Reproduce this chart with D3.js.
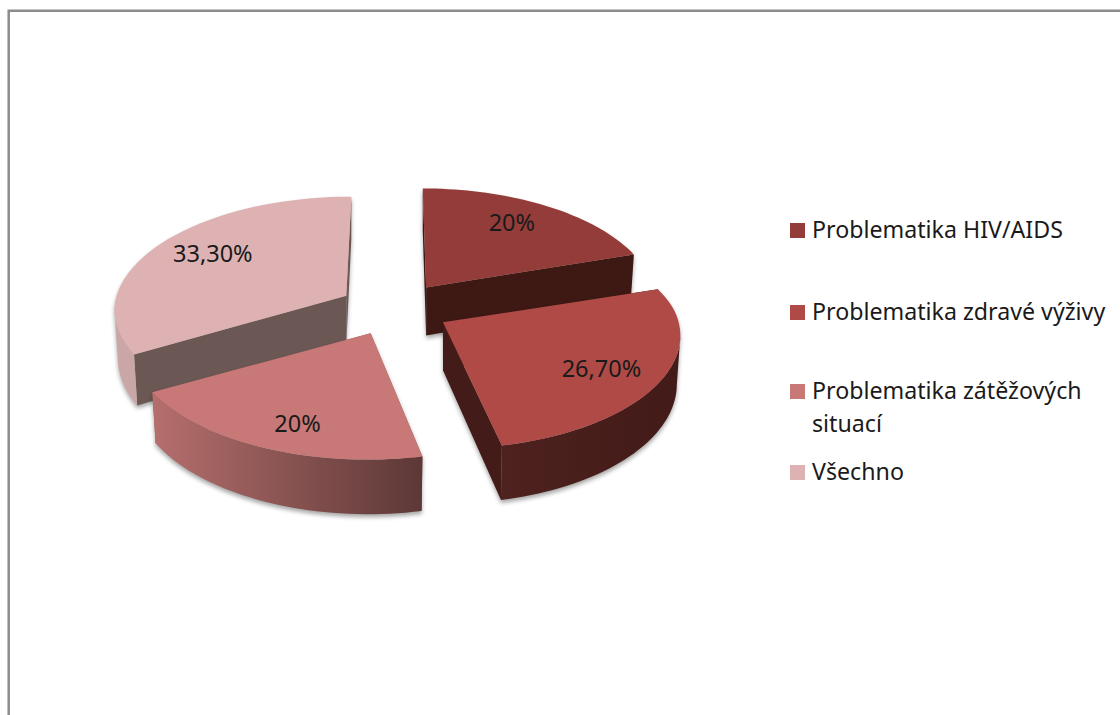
<!DOCTYPE html>
<html>
<head>
<meta charset="utf-8">
<script src="https://cdnjs.cloudflare.com/ajax/libs/d3/7.8.5/d3.min.js"></script>
<style>
    body { margin: 0; background: #fff; }
    svg { display: block; }
    text { font-family: "Noto Sans", sans-serif; fill: #1a1a1a; }
</style>
</head>
<body>
<div id="chart"></div>
<script>
var categories = [
    "Problematika HIV/AIDS",
    "Problematika zdravé výživy",
    "Problematika zátěžových situací",
    "Všechno"
];
var values = [20, 26.7, 20, 33.3];
var valueLabels = ["20%", "26,70%", "20%", "33,30%"];
var legendLines = [
    ["Problematika HIV/AIDS"],
    ["Problematika zdravé výživy"],
    ["Problematika zátěžových", "situací"],
    ["Všechno"]
];
var topColors = ["#943c39", "#af4a46", "#c87876", "#deb2b2"];
var cutColors = ["#3e1914", "#431b18", "#8a5250", "#6b5854"];
var wallLeftColors = ["#3e1914", "#4e221e", "#b56f6d", "#cba6a6"];
var wallRightColors = ["#3e1914", "#431b18", "#5c3836", "#c29b9b"];

var width = 1120;
var height = 715;

var svg = d3.select("#chart")
    .append("svg")
    .attr("width", width)
    .attr("height", height);

// frame only shows on the top and left, the picture is cropped on the others
svg.append("path")
    .attr("d", "M8.7," + height + "V10.7H" + width)
    .attr("fill", "none")
    .attr("stroke", "#8c8c8c")
    .attr("stroke-width", 2.5);

// fake 3d: tilted disc with a little perspective, the far side is smaller
var cx = 394, cy = 309;
var radiusX = 233, radiusY = 111;
var perspective = 0.121;
var explode = 0.24;
var depth = 48;
var bottomShrink = 0.985;
var labelReach = [0.7, 0.74, 0.69, 0.71];

function scaleAt(a) {
    return 1 / (1 + perspective * Math.cos(a));
}

// x leans towards the centre the further back a point sits
function rim(mid, a, f) {
    f = f === undefined ? 1 : f;
    var back = explode * Math.cos(mid) + f * Math.cos(a);
    var sx = 1 / (1 + perspective * (back > 0 ? back : back * 0.8));
    var x = cx + radiusX * (explode * Math.sin(mid) + f * Math.sin(a)) * sx;
    var y = cy - radiusY * explode * Math.cos(mid) - radiusY * f * Math.cos(a) * scaleAt(a);
    return [x, y];
}

function down(tip, p, a) {
    return [tip[0] + (p[0] - tip[0]) * bottomShrink, p[1] + depth * scaleAt(a)];
}

function arcAngles(a0, a1) {
    return d3.range(0, 41).map(i => a0 + (a1 - a0) * i / 40);
}

var line = d3.line();

var pie = d3.pie().sort(null).value(d => d);
var slices = pie(values);

var defs = svg.append("defs");
slices.forEach((d, i) => {
    var grad = defs.append("linearGradient")
        .attr("id", "wall" + i)
        .attr("gradientUnits", "userSpaceOnUse");
    var mid = (d.startAngle + d.endAngle) / 2;
    var xs = [rim(mid, d.startAngle)[0], rim(mid, d.endAngle)[0]];
    grad.attr("x1", d3.min(xs)).attr("x2", d3.max(xs)).attr("y1", 0).attr("y2", 0);
    grad.append("stop").attr("offset", 0).attr("stop-color", wallLeftColors[i]);
    grad.append("stop").attr("offset", 1).attr("stop-color", wallRightColors[i]);
});

// back slices first so the front ones sit over their cut faces
var drawOrder = [0, 3, 1, 2];
var frontFrom = Math.acos(-perspective);
var frontTo = 2 * Math.PI - frontFrom;

drawOrder.forEach(i => {
    var d = slices[i];
    var mid = (d.startAngle + d.endAngle) / 2;
    var tip = rim(mid, 0, 0);
    var g = svg.append("g")
        .style("filter", "drop-shadow(0px 3px 2px rgba(0,0,0,0.35))");

    var tipDown = [tip[0], tip[1] + depth];

    // cut faces
    [d.startAngle, d.endAngle].forEach(a => {
        var p = rim(mid, a);
        g.append("path")
            .attr("d", line([tip, p, down(tip, p, a), tipDown]) + "Z")
            .attr("fill", cutColors[i]);
    });

    // outer wall, only the part that faces the viewer
    var a0 = Math.max(d.startAngle, frontFrom);
    var a1 = Math.min(d.endAngle, frontTo);
    if (a1 > a0) {
        var angles = arcAngles(a0, a1);
        var upper = angles.map(a => rim(mid, a));
        var lower = angles.map((a, j) => down(tip, upper[j], a)).reverse();
        g.append("path")
            .attr("d", line(upper.concat(lower)) + "Z")
            .attr("fill", "url(#wall" + i + ")");
    }

    // top face
    var edge = arcAngles(d.startAngle, d.endAngle).map(a => rim(mid, a));
    g.append("path")
        .attr("d", line([tip].concat(edge)) + "Z")
        .attr("fill", topColors[i]);
});

// value labels
slices.forEach((d, i) => {
    var mid = (d.startAngle + d.endAngle) / 2;
    svg.append("text")
        .attr("x", rim(mid, mid, labelReach[i])[0])
        .attr("y", rim(mid, mid, 0.79)[1])
        .attr("dy", "0.35em")
        .attr("text-anchor", "middle")
        .attr("font-size", 23.5)
        .text(valueLabels[i]);
});

// legend
var legendBaselines = [238, 320, 399, 480];
var legend = svg.append("g");
categories.forEach((c, i) => {
    legend.append("rect")
        .attr("x", 790)
        .attr("y", legendBaselines[i] - 15)
        .attr("width", 15)
        .attr("height", 15)
        .attr("fill", topColors[i]);
    legendLines[i].forEach((t, j) => {
        legend.append("text")
            .attr("x", 812)
            .attr("y", legendBaselines[i] + j * 33)
            .attr("font-size", 23.2)
            .text(t);
    });
});
</script>
</body>
</html>
